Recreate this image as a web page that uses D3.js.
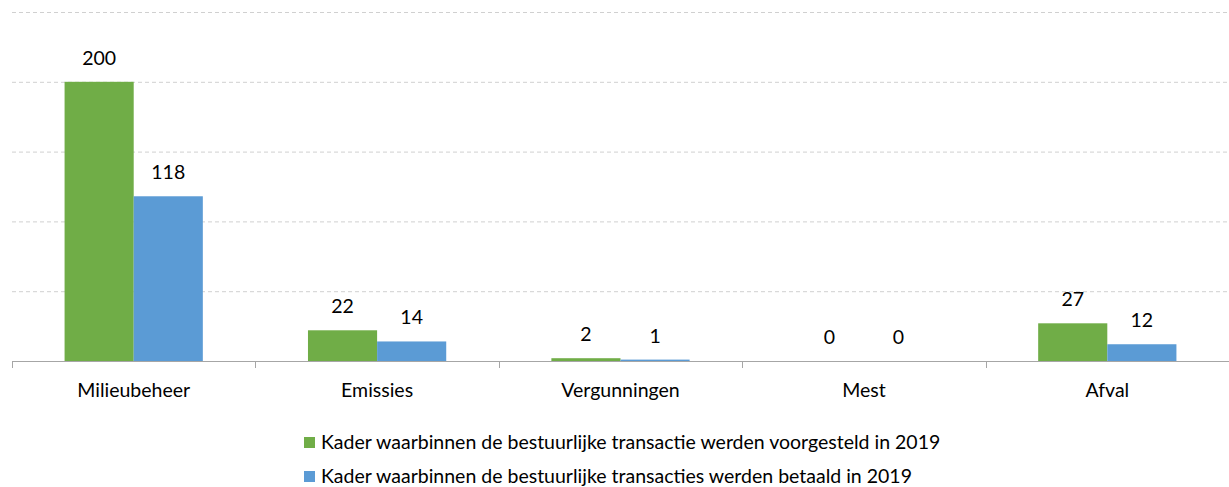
<!DOCTYPE html>
<html>
<head>
<meta charset="utf-8">
<script src="https://cdn.jsdelivr.net/npm/d3@7"></script>
<style>
  body { margin: 0; background: #fff; }
  text { font-family: Lato, "Open Sans", sans-serif; fill: #000; }
</style>
</head>
<body>
<script>
// chart data
var categories = ["Milieubeheer", "Emissies", "Vergunningen", "Mest", "Afval"]
var voorgesteld = [200, 22, 2, 0, 27]
var betaald = [118, 14, 1, 0, 12]
var seriesNames = [
  "Kader waarbinnen de bestuurlijke transactie werden voorgesteld in 2019",
  "Kader waarbinnen de bestuurlijke transacties werden betaald in 2019"
]
var seriesColors = ["#70ad47", "#5b9bd5"]
var yTicks = [0, 50, 100, 150, 200, 250]

var width = 1229, height = 487
var margin = {top: 12, right: 0, bottom: 126, left: 12}
var fontSize = "19.5px"

var svg = d3.select("body").append("svg")
  .attr("width", width)
  .attr("height", height)

var x = d3.scaleBand()
  .domain(categories)
  .range([margin.left, width - margin.right])
  .paddingInner(0.432)
  .paddingOuter(0.216)

var x1 = d3.scaleBand()
  .domain([0, 1])
  .range([0, x.bandwidth()])

var y = d3.scaleLinear()
  .domain([0, 250])
  .range([height - margin.bottom, margin.top])

// gridlines
svg.append("g")
  .selectAll("line")
  .data(yTicks.filter(function(d) { return d > 0 }))
  .enter().append("line")
  .attr("x1", margin.left)
  .attr("x2", width - margin.right)
  .attr("y1", function(d) { return y(d) + 0.5 })
  .attr("y2", function(d) { return y(d) + 0.5 })
  .style("stroke", "#d0d0d0")
  .style("stroke-width", 1)
  .style("stroke-dasharray", "4,3")

// bars
var groups = svg.append("g")
  .selectAll("g")
  .data(categories)
  .enter().append("g")
  .attr("transform", function(d) { return "translate(" + x(d) + ",0)" })

groups.selectAll("rect")
  .data(function(d, i) { return [voorgesteld[i], betaald[i]] })
  .enter().append("rect")
  .attr("x", function(d, j) { return x1(j) })
  .attr("width", x1.bandwidth())
  .attr("y", function(d) { return y(d) })
  .attr("height", function(d) { return y(0) - y(d) })
  .style("fill", function(d, j) { return seriesColors[j] })

// value labels
groups.selectAll("text")
  .data(function(d, i) { return [voorgesteld[i], betaald[i]] })
  .enter().append("text")
  .attr("x", function(d, j) { return x1(j) + x1.bandwidth() / 2 })
  .attr("y", function(d) { return y(d) - 17 })
  .attr("text-anchor", "middle")
  .style("font-size", fontSize)
  .text(function(d) { return d })

// x axis
var xAxis = d3.axisBottom(x).tickSize(0).tickPadding(0)
var gX = svg.append("g")
  .attr("transform", "translate(0," + y(0) + ")")
  .call(xAxis)
gX.select(".domain").remove()
gX.selectAll("text")
  .attr("y", 36)
  .attr("dy", 0)
  .style("font-size", fontSize)
  .style("font-family", "Lato, 'Open Sans', sans-serif")

svg.append("line")
  .attr("x1", margin.left)
  .attr("x2", width - margin.right)
  .attr("y1", y(0) + 0.5)
  .attr("y2", y(0) + 0.5)
  .style("stroke", "#a6a6a6")

// category boundary ticks
var bounds = categories.map(function(d) { return x(d) - x.step() * x.paddingInner() / 2 })
bounds.push(width - margin.right - 0.5)
svg.append("g")
  .selectAll("line")
  .data(bounds)
  .enter().append("line")
  .attr("x1", function(d) { return Math.round(d) + 0.5 })
  .attr("x2", function(d) { return Math.round(d) + 0.5 })
  .attr("y1", y(0))
  .attr("y2", y(0) + 7)
  .style("stroke", "#a6a6a6")

// legend
var legend = svg.append("g")
  .selectAll("g")
  .data(seriesNames)
  .enter().append("g")
  .attr("transform", function(d, i) { return "translate(304," + (437 + i * 34) + ")" })

legend.append("rect")
  .attr("width", 11)
  .attr("height", 11)
  .style("fill", function(d, i) { return seriesColors[i] })

legend.append("text")
  .attr("x", 17)
  .attr("y", 12)
  .style("font-size", fontSize)
  .text(function(d) { return d })
</script>
</body>
</html>
